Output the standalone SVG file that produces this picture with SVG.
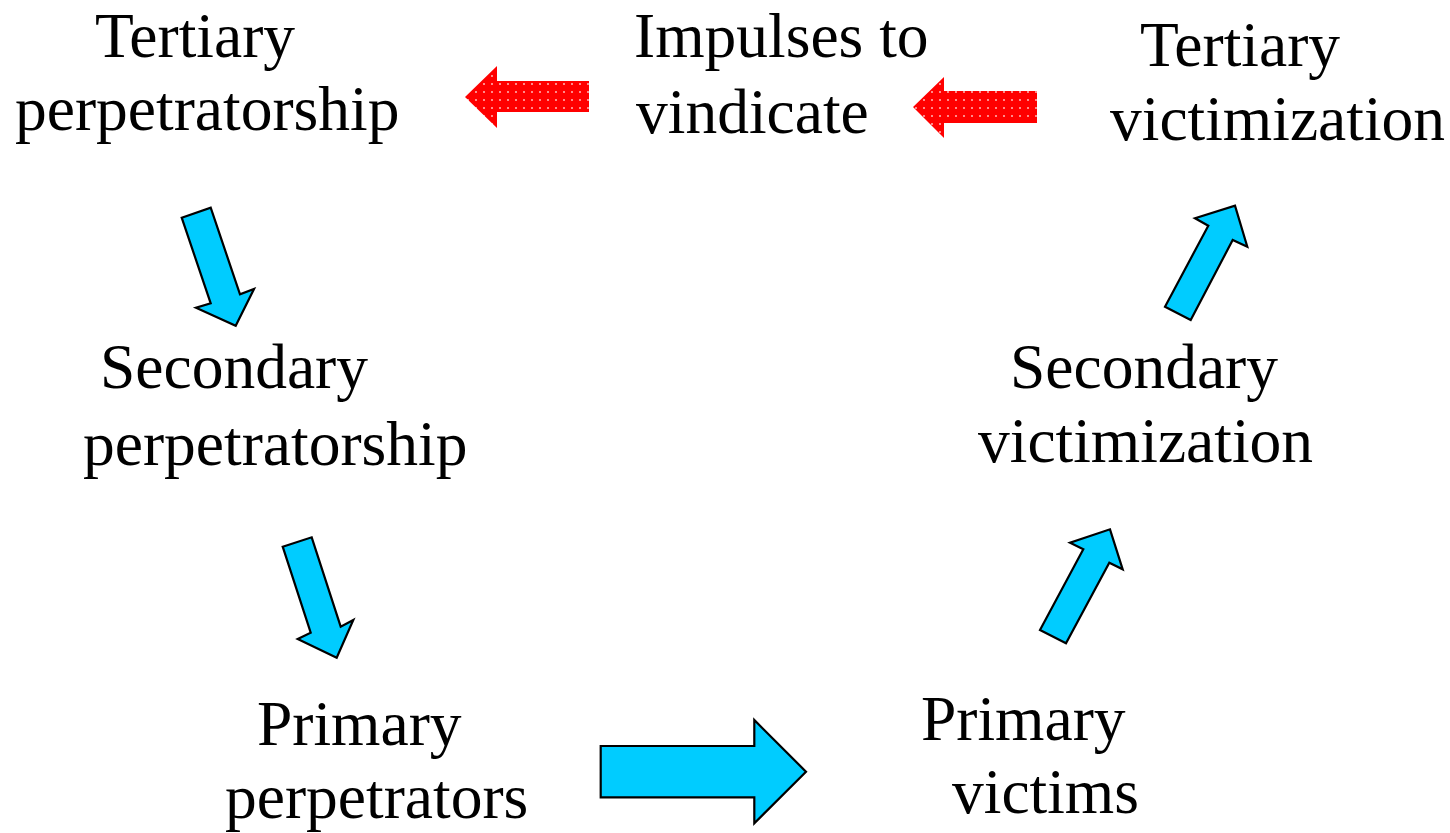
<svg xmlns="http://www.w3.org/2000/svg" width="1450" height="833" viewBox="0 0 1450 833">
  <style>
    .label { font-family: "Liberation Serif", "Times New Roman", serif; font-size: 63.5px; fill: #000; }
    .flow { fill: #00ccff; stroke: #000; stroke-width: 2.2; stroke-linejoin: miter; }
    .feedback { fill: url(#dots); stroke: none; }
  </style>
  <defs>
    <!-- stippled red fill for the feedback arrows -->
    <pattern id="dots" width="8" height="8" patternUnits="userSpaceOnUse">
      <rect width="8" height="8" fill="#ff0000"/>
      <rect x="3" y="3" width="2" height="2" fill="#ff8a8a"/>
    </pattern>
  </defs>
  <rect width="1450" height="833" fill="#ffffff"/>

  <g id="tertiary-perpetratorship">
    <text class="label" x="95" y="57">Tertiary</text>
    <text class="label" x="15" y="130">perpetratorship</text>
  </g>
  <g id="impulses-to-vindicate">
    <text class="label" x="634" y="57">Impulses to</text>
    <text class="label" x="636" y="133">vindicate</text>
  </g>
  <g id="tertiary-victimization">
    <text class="label" x="1140" y="66">Tertiary</text>
    <text class="label" x="1110" y="140">victimization</text>
  </g>
  <g id="secondary-perpetratorship">
    <text class="label" x="100" y="388">Secondary</text>
    <text class="label" x="83" y="465">perpetratorship</text>
  </g>
  <g id="secondary-victimization">
    <text class="label" x="1010" y="388">Secondary</text>
    <text class="label" x="978" y="462">victimization</text>
  </g>
  <g id="primary-perpetrators">
    <text class="label" x="257" y="745">Primary</text>
    <text class="label" x="225" y="818">perpetrators</text>
  </g>
  <g id="primary-victims">
    <text class="label" x="921" y="740">Primary</text>
    <text class="label" x="952" y="813">victims</text>
  </g>

  <g id="connectors">
    <!-- feedback arrows (right to left) -->
    <polygon class="feedback" points="589,81 497,81 497,66 465,97 497,128 497,112 589,112"/>
    <polygon class="feedback" points="1037,91 944,91 944,77 913,107 944,138 944,123 1037,123"/>
    <!-- perpetrator chain (downward) -->
    <polygon class="flow" points="181.7,217.7 210.7,207.7 240,294.3 254,289 235.7,325.7 196,307.7 210.7,303.3"/>
    <polygon class="flow" points="282.7,546.7 311.7,537.3 340.7,626.7 353.3,620 336.7,657.7 297.7,639 310.7,632.7"/>
    <!-- perpetrators to victims -->
    <polygon class="flow" points="600.7,746 754.3,746 754.3,720 806,771.7 754.3,823.3 754.3,797.3 600.7,797.3"/>
    <!-- victim chain (upward) -->
    <polygon class="flow" points="1040,630 1066,643.3 1109.3,562.7 1122.7,569.3 1110,529.3 1070,542.7 1083.3,549.3"/>
    <polygon class="flow" points="1165,306.7 1190.7,320 1232.7,240 1247.3,246.7 1235,205.7 1195,218.3 1208.3,225.7"/>
  </g>
</svg>
